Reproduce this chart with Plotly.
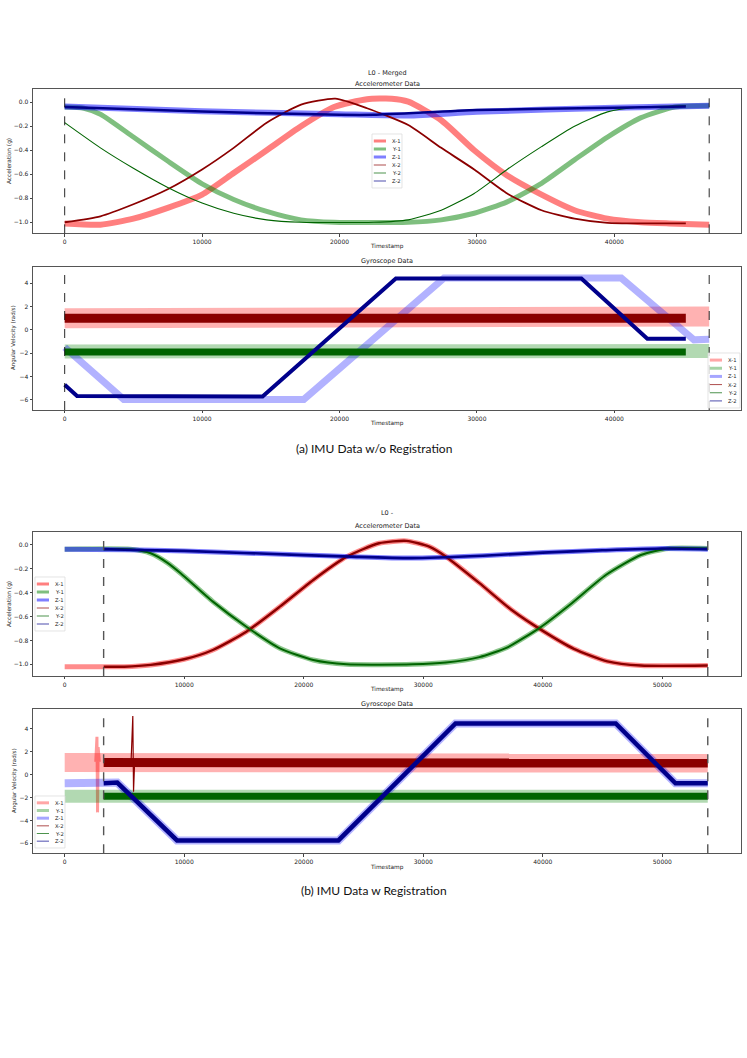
import plotly.graph_objects as go

W, H = 747, 1058

# ---------- (a) without registration: accelerometer (g) ----------
A_ACC_X1_T = [0, 2600, 5000, 7500, 10000, 12300, 14700, 17200, 19600, 22000, 23800, 25000,
              27400, 29800, 32200, 34700, 37100, 39500, 41900, 44000, 46900]
A_ACC_X1 = [-1.01, -1.02, -0.97, -0.88, -0.77, -0.59, -0.40, -0.20, -0.04, 0.025, 0.03, 0.005,
            -0.15, -0.40, -0.61, -0.77, -0.90, -0.97, -1.00, -1.01, -1.02]
A_ACC_Y1_T = [0, 1400, 2600, 5000, 7500, 10000, 12300, 14700, 17200, 19600, 25000, 27400,
              29800, 32200, 34700, 37100, 39500, 41900, 44400, 46900]
A_ACC_Y1 = [-0.04, -0.05, -0.10, -0.29, -0.49, -0.68, -0.81, -0.91, -0.98, -1.00, -1.00, -0.98,
            -0.925, -0.83, -0.675, -0.48, -0.29, -0.13, -0.04, -0.03]
A_ACC_Z1_T = [0, 10000, 20000, 25000, 30000, 40000, 46900]
A_ACC_Z1 = [-0.035, -0.075, -0.10, -0.11, -0.08, -0.045, -0.03]
A_ACC_X2_T = [0, 2600, 5000, 7500, 10000, 12300, 14700, 17200, 19700, 22000, 25000, 27400,
              29800, 32200, 34700, 37100, 39500, 42000, 45200]
A_ACC_X2 = [-1.00, -0.95, -0.85, -0.725, -0.56, -0.38, -0.17, -0.02, 0.03, -0.05, -0.19, -0.38,
            -0.56, -0.76, -0.90, -0.97, -1.005, -1.01, -1.01]
A_ACC_Y2_T = [0, 2600, 5000, 7500, 10000, 12300, 14700, 17200, 22500, 25000, 27400, 29800,
              32200, 34700, 37100, 39500, 41900, 45200]
A_ACC_Y2 = [-0.17, -0.38, -0.55, -0.71, -0.84, -0.925, -0.98, -1.00, -1.00, -0.98, -0.90, -0.76,
            -0.56, -0.37, -0.20, -0.08, -0.04, -0.03]
A_ACC_Z2_T = [0, 10000, 20000, 22500, 30000, 40000, 45200]
A_ACC_Z2 = [-0.04, -0.078, -0.105, -0.105, -0.065, -0.045, -0.035]

# ---------- (a) without registration: gyroscope (rad/s) ----------
A_GYR_X1_T = [0, 25000, 45000, 46900]
A_GYR_X1 = [1.0, 1.0, 1.1, 1.15]
A_GYR_Y1_T = [0, 46900]
A_GYR_Y1 = [-1.85, -1.8]
A_GYR_Z1_T = [0, 4300, 17400, 27600, 40500, 45800, 46900]
A_GYR_Z1 = [-1.5, -5.95, -5.95, 4.45, 4.45, -0.85, -0.8]
A_GYR_X2_T = [0, 45200]
A_GYR_X2 = [1.0, 1.0]
A_GYR_Y2_T = [0, 45200]
A_GYR_Y2 = [-1.9, -1.9]
A_GYR_Z2_T = [0, 900, 14400, 24100, 37600, 42400, 45200]
A_GYR_Z2 = [-4.7, -5.65, -5.7, 4.4, 4.4, -0.75, -0.75]
A_SYNC = [0, 46900]

# ---------- (b) with registration: accelerometer (g) ----------
B_ACC_X_T = [0, 5000, 7200, 10000, 12400, 15200, 18000, 20800, 23600, 26300, 28600, 30500,
             31900, 34700, 37400, 40000, 42600, 45400, 48200, 53800]
B_ACC_X = [-1.02, -1.02, -1.005, -0.958, -0.88, -0.727, -0.517, -0.293, -0.098, 0.014, 0.034, -0.014,
           -0.098, -0.32, -0.545, -0.72, -0.87, -0.975, -1.01, -1.01]
B_ACC_Y_T = [0, 5500, 7200, 8600, 9700, 12400, 15200, 18000, 20800, 23600, 29100, 31900,
             34700, 37000, 39800, 42400, 45300, 48200, 50500, 53800]
B_ACC_Y = [-0.035, -0.035, -0.07, -0.15, -0.237, -0.475, -0.685, -0.866, -0.964, -1.0, -1.0, -0.985,
           -0.94, -0.86, -0.69, -0.49, -0.25, -0.084, -0.03, -0.03]
B_ACC_Z_T = [0, 5000, 10000, 20000, 24000, 29000, 35000, 40000, 45000, 50000, 53800]
B_ACC_Z = [-0.035, -0.04, -0.05, -0.085, -0.098, -0.11, -0.09, -0.064, -0.045, -0.03, -0.035]
B_START2 = 3260  # second IMU starts at the first sync line

# ---------- (b) with registration: gyroscope (rad/s) ----------
B_GYR_X_T = [0, 53800]
B_GYR_X = [1.05, 1.0]
B_GYR_Y_T = [0, 53800]
B_GYR_Y = [-1.9, -1.9]
B_GYR_Z_T = [0, 4400, 9400, 22900, 32700, 46100, 51100, 53800]
B_GYR_Z = [-0.75, -0.7, -5.75, -5.75, 4.45, 4.45, -0.77, -0.75]
B_GYR_X1_BURST_T = [2600, 2700, 2750, 2800, 2900]
B_GYR_X1_BURST = [1.1, 3.3, -3.3, 2.4, 1.1]
B_GYR_X2_SPIKE_T = [5550, 5700, 5760, 5850]
B_GYR_X2_SPIKE = [1.0, 5.1, -1.5, 1.0]
B_SYNC = [3260, 53800]

NAMES = ["X-1", "Y-1", "Z-1", "X-2", "Y-2", "Z-2"]
DARK = {"X": "#8b0000", "Y": "#006400", "Z": "#00008b"}
def light(axis, a):
    rgb = {"X": "255,0,0", "Y": "0,128,0", "Z": "0,0,255"}[axis]
    return f"rgba({rgb},{a})"

TXT = "#222222"
FONT = "DejaVu Sans"

fig = go.Figure()

def add(ax, name, t, v, color, width, shape):
    fig.add_trace(go.Scatter(x=t, y=v, name=name, mode="lines", xaxis="x" + ax, yaxis="y" + ax,
                             line=dict(color=color, width=width, shape=shape, smoothing=0.6),
                             showlegend=False, hovertemplate=name + ": %{y:.2f}<extra></extra>"))

# panel 1: (a) accelerometer
add("", "X-1", A_ACC_X1_T, A_ACC_X1, light("X", 0.5), 6, "spline")
add("", "Y-1", A_ACC_Y1_T, A_ACC_Y1, light("Y", 0.5), 5, "spline")
add("", "Z-1", A_ACC_Z1_T, A_ACC_Z1, light("Z", 0.5), 6, "spline")
add("", "X-2", A_ACC_X2_T, A_ACC_X2, DARK["X"], 1.8, "spline")
add("", "Y-2", A_ACC_Y2_T, A_ACC_Y2, DARK["Y"], 1.1, "spline")
add("", "Z-2", A_ACC_Z2_T, A_ACC_Z2, DARK["Z"], 2.5, "spline")

# panel 2: (a) gyroscope
add("2", "X-1", A_GYR_X1_T, A_GYR_X1, light("X", 0.3), 20, "linear")
add("2", "Y-1", A_GYR_Y1_T, A_GYR_Y1, light("Y", 0.3), 14, "linear")
add("2", "Z-1", A_GYR_Z1_T, A_GYR_Z1, light("Z", 0.3), 7, "linear")
add("2", "X-2", A_GYR_X2_T, A_GYR_X2, DARK["X"], 9, "linear")
add("2", "Y-2", A_GYR_Y2_T, A_GYR_Y2, DARK["Y"], 7, "linear")
add("2", "Z-2", A_GYR_Z2_T, A_GYR_Z2, DARK["Z"], 4, "linear")

# panel 3: (b) accelerometer, second IMU from the sync line on
def from_start(t, v, t0):
    keep = [(a, b) for a, b in zip(t, v) if a >= t0]
    return [t0] + [a for a, _ in keep], [v[0] if t0 <= t[1] else keep[0][1]] + [b for _, b in keep]

add("3", "X-1", B_ACC_X_T, B_ACC_X, light("X", 0.45), 5, "spline")
add("3", "Y-1", B_ACC_Y_T, B_ACC_Y, light("Y", 0.45), 5, "spline")
add("3", "Z-1", B_ACC_Z_T, B_ACC_Z, light("Z", 0.5), 5, "spline")
add("3", "X-2", *from_start(B_ACC_X_T, B_ACC_X, B_START2), DARK["X"], 2.4, "spline")
add("3", "Y-2", *from_start(B_ACC_Y_T, B_ACC_Y, B_START2), DARK["Y"], 2.0, "spline")
add("3", "Z-2", *from_start(B_ACC_Z_T, B_ACC_Z, B_START2), DARK["Z"], 2.6, "spline")

# panel 4: (b) gyroscope
add("4", "X-1", B_GYR_X_T, B_GYR_X, light("X", 0.3), 19, "linear")
add("4", "X-1", B_GYR_X1_BURST_T, B_GYR_X1_BURST, light("X", 0.4), 3, "linear")
add("4", "Y-1", B_GYR_Y_T, B_GYR_Y, light("Y", 0.3), 13, "linear")
add("4", "Z-1", B_GYR_Z_T, B_GYR_Z, light("Z", 0.3), 8, "linear")
add("4", "X-2", *from_start(B_GYR_X_T, B_GYR_X, B_START2), DARK["X"], 9, "linear")
add("4", "X-2", B_GYR_X2_SPIKE_T, B_GYR_X2_SPIKE, DARK["X"], 1.2, "linear")
add("4", "Y-2", *from_start(B_GYR_Y_T, B_GYR_Y, B_START2), DARK["Y"], 7, "linear")
add("4", "Z-2", *from_start(B_GYR_Z_T, B_GYR_Z, B_START2), DARK["Z"], 4.5, "linear")

# ---------- axes ----------
def py(y):
    return 1 - y / H

XDOM = [33 / W, 741 / W]
panels = [  # axis suffix, y top px, y bottom px, x range, y range, y ticks, last x tick
    ("", 89.3, 233.3, [-2305, 49215], [-1.092, 0.108], [-1.0, -0.8, -0.6, -0.4, -0.2, 0.0], 40000),
    ("2", 266.7, 410.0, [-2305, 49215], [-6.86, 5.42], [-6, -4, -2, 0, 2, 4], 40000),
    ("3", 532.3, 676.0, [-2650, 56580], [-1.098, 0.106], [-1.0, -0.8, -0.6, -0.4, -0.2, 0.0], 50000),
    ("4", 709.3, 853.3, [-2650, 56580], [-6.87, 5.69], [-6, -4, -2, 0, 2, 4], 50000),
]
axis_style = dict(showline=True, mirror=True, linecolor="#555", linewidth=0.8, showgrid=False,
                  zeroline=False, ticks="outside", ticklen=2.5, tickwidth=0.7, tickcolor="#444",
                  tickfont=dict(family=FONT, size=6, color=TXT))
for sfx, top, bot, xr, yr, yt, xmax in panels:
    fig.layout["xaxis" + sfx] = dict(domain=XDOM, range=xr, anchor="y" + sfx,
                                     tickvals=list(range(0, xmax + 1, 10000)), tickformat="d", **axis_style)
    fig.layout["yaxis" + sfx] = dict(domain=[py(bot), py(top)], range=yr, anchor="x" + sfx,
                                     tickvals=yt, tickformat=".1f" if sfx in ("", "3") else "d",
                                     **axis_style)

# sync lines
for sfx, sync, col, wd in [("", A_SYNC, "#111", 0.9), ("2", A_SYNC, "#111", 0.9),
                           ("3", B_SYNC, "#555", 1.4), ("4", B_SYNC, "#555", 1.4)]:
    for t in sync:
        fig.add_shape(type="line", xref="x" + sfx, yref="y" + sfx + " domain", x0=t, x1=t, y0=0, y1=1,
                      line=dict(color=col, width=wd, dash="dash"))

# ---------- texts ----------
def text(s, x, y, size=6.5, angle=0, family=FONT, color=TXT):
    fig.add_annotation(text=s, x=x / W, y=py(y), xref="paper", yref="paper", showarrow=False,
                       textangle=angle, font=dict(family=family, size=size, color=color),
                       xanchor="center", yanchor="middle")

text("L0 - Merged", 387, 73.5, 6.5)
text("Accelerometer Data", 387, 84, 6.5)
text("Timestamp", 387, 246, 5.8)
text("Acceleration (g)", 9, 161, 5.8, -90)
text("Gyroscope Data", 387, 261, 6.5)
text("Timestamp", 387, 423.5, 5.8)
text("Angular Velocity (rad/s)", 14, 338, 5.5, -90)
text("(a) IMU Data w/o Registration", 374, 448.5, 12, family="Lato", color="#111")

text("L0 -", 387, 513, 6.5)
text("Accelerometer Data", 387, 526, 6.5)
text("Timestamp", 387, 689, 5.8)
text("Acceleration (g)", 9, 604, 5.8, -90)
text("Gyroscope Data", 387, 704, 6.5)
text("Timestamp", 387, 867.5, 5.8)
text("Angular Velocity (rad/s)", 14, 781, 5.5, -90)
text("(b) IMU Data w Registration", 374, 890, 12, family="Lato", color="#111")

# ---------- legends (drawn small like the matplotlib ones) ----------
def legend(x0, y0, w, h, swatches):
    fig.add_shape(type="rect", xref="paper", yref="paper", x0=x0 / W, x1=(x0 + w) / W,
                  y0=py(y0 + h), y1=py(y0), line=dict(color="#d8d8d8", width=0.7),
                  fillcolor="rgba(255,255,255,0.8)")
    step = (h - 6) / len(swatches)
    for i, (name, col, lw) in enumerate(swatches):
        yy = y0 + 3 + step * (i + 0.5)
        fig.add_shape(type="line", xref="paper", yref="paper", x0=(x0 + 1.8) / W, x1=(x0 + 14) / W,
                      y0=py(yy), y1=py(yy), line=dict(color=col, width=lw))
        fig.add_annotation(text=name, x=(x0 + 18) / W, y=py(yy), xref="paper", yref="paper",
                           showarrow=False, xanchor="left", yanchor="middle",
                           font=dict(family=FONT, size=5.2, color=TXT))

def sw(a):
    return [(NAMES[0], light("X", a), 3), (NAMES[1], light("Y", a), 3), (NAMES[2], light("Z", a), 3),
            (NAMES[3], DARK["X"], 0.7), (NAMES[4], DARK["Y"], 0.7), (NAMES[5], DARK["Z"], 0.7)]

legend(372, 134, 30, 54, sw(0.5))
legend(708, 353, 32, 55, sw(0.35))
legend(35, 577, 30, 54, sw(0.5))
legend(35, 796, 30, 52, sw(0.35))

fig.update_layout(width=W, height=H, margin=dict(l=0, r=0, t=0, b=0), paper_bgcolor="white",
                  plot_bgcolor="white", showlegend=False, font=dict(family=FONT, color=TXT))
# the page body has a default 8px margin; drop it so the figure fills the window exactly
fig.write_html("out.html", config={"displayModeBar": False},
               post_script="document.body.style.margin='0';")
